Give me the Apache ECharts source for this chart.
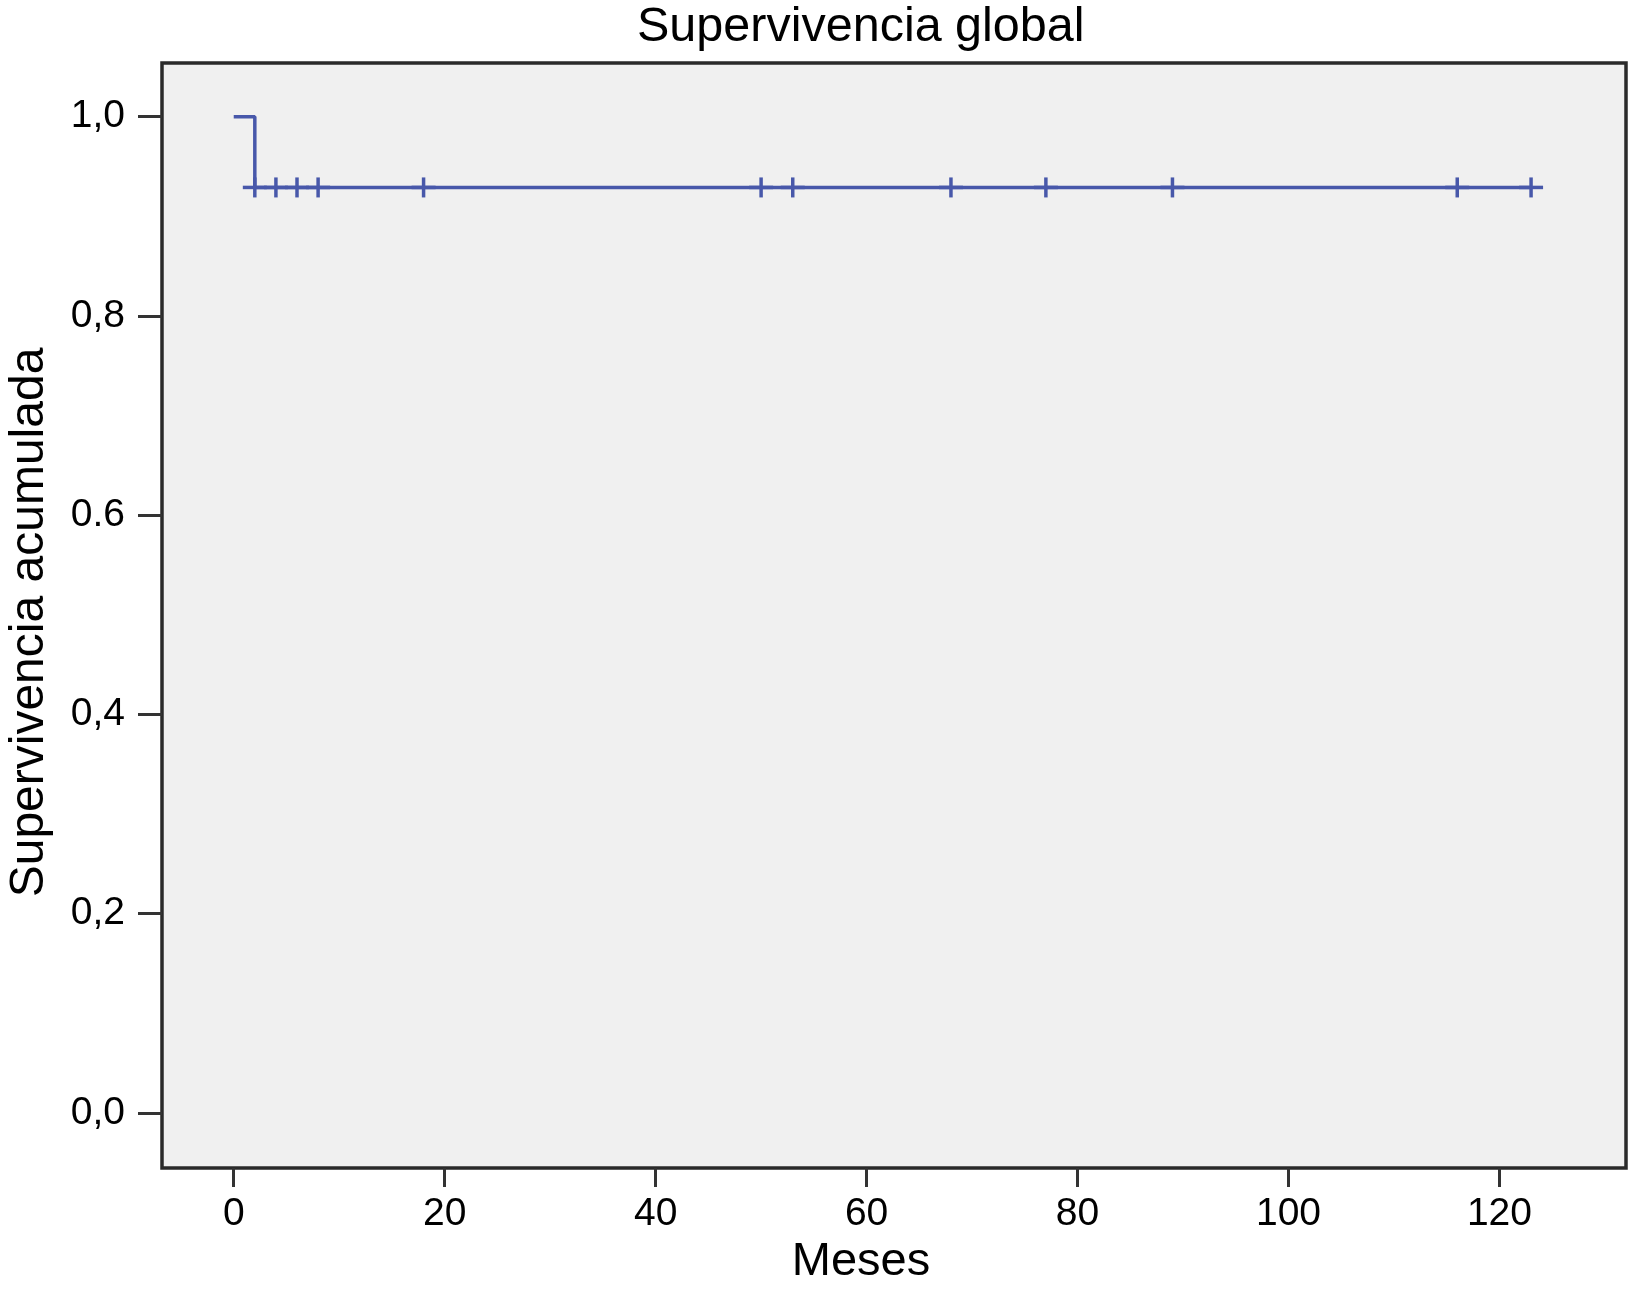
<!DOCTYPE html>
<html>
<head>
<meta charset="utf-8">
<script src="https://cdn.jsdelivr.net/npm/echarts@6/dist/echarts.min.js"></script>
<style>
html,body{margin:0;padding:0;background:#fff;}
#chart{width:1631px;height:1290px;}
</style>
</head>
<body>
<div id="chart"></div>
<script>
// ---- data ----
const stepTimes = [0, 2, 123];          // months
const stepSurvival = [1.0, 0.929, 0.929]; // cumulative survival
const censorTimes = [2, 4, 6, 8, 18, 50, 53, 68, 77, 89, 116, 123];
const censorSurvival = [0.929, 0.929, 0.929, 0.929, 0.929, 0.929, 0.929, 0.929, 0.929, 0.929, 0.929, 0.929];
const xTickValues = [0, 20, 40, 60, 80, 100, 120];
const xTickLabels = ["0", "20", "40", "60", "80", "100", "120"];
const yTickValues = [0, 0.2, 0.4, 0.6, 0.8, 1.0];
const yTickLabels = ["0,0", "0,2", "0,4", "0.6", "0,8", "1,0"];
const titleText = "Supervivencia global";
const xName = "Meses";
const yName = "Supervivencia acumulada";

const FONT = "'Liberation Sans', Arial, Helvetica, sans-serif";
const LINE_COLOR = "#4858aa";

function lookup(values, labels, v) {
  const i = values.findIndex(t => Math.abs(t - v) < 1e-6);
  return i >= 0 ? labels[i] : "";
}

const chart = echarts.init(document.getElementById('chart'), null, {renderer: 'canvas'});
const option = {
  animation: false,
  backgroundColor: '#ffffff',
  title: {
    text: titleText,
    left: 632,
    top: -2,
    textStyle: {fontFamily: FONT, fontSize: 48.5, fontWeight: 'normal', color: '#000'}
  },
  graphic: [
    {
      type: 'text',
      x: 861,
      y: 1262,
      style: {text: xName, fontFamily: FONT, fontSize: 47, fill: '#000', align: 'center', verticalAlign: 'middle'}
    }
  ],
  grid: {
    left: 162, right: 5, top: 63, bottom: 122,
    outerBoundsMode: 'none',
    containLabel: false,
    show: true,
    backgroundColor: '#f0f0f0',
    borderColor: '#2a2a2a',
    borderWidth: 3.5
  },
  xAxis: {
    type: 'value',
    min: -6.8, max: 132,
    axisLine: {show: false, onZero: false},
    splitLine: {show: false},
    axisTick: {show: true, inside: false, length: 19, customValues: xTickValues,
      lineStyle: {color: '#333', width: 3}},
    axisLabel: {customValues: xTickValues, margin: 27, fontFamily: FONT, fontSize: 39, color: '#000',
      formatter: v => lookup(xTickValues, xTickLabels, v)}
  },
  yAxis: {
    type: 'value',
    min: -0.0552, max: 1.0539,
    name: yName,
    nameLocation: 'middle',
    nameRotate: 90,
    nameGap: 108,
    nameMoveOverlap: false,
    nameTextStyle: {fontFamily: FONT, fontSize: 48, color: '#000', padding: [0, 14, 0, 0]},
    axisLine: {show: false, onZero: false},
    splitLine: {show: false},
    axisTick: {show: true, inside: false, length: 24, customValues: yTickValues,
      lineStyle: {color: '#333', width: 3}},
    axisLabel: {customValues: yTickValues, margin: 37, fontFamily: FONT, fontSize: 39, color: '#000',
      formatter: v => lookup(yTickValues, yTickLabels, v)}
  },
  series: [
    {
      type: 'line',
      step: 'end',
      data: stepTimes.map((t, i) => [t, stepSurvival[i]]),
      showSymbol: false,
      symbol: 'none',
      lineStyle: {color: LINE_COLOR, width: 3.5},
      z: 3
    },
    {
      type: 'custom',
      data: censorTimes.map((t, i) => [t, censorSurvival[i]]),
      renderItem: function (params, api) {
        const p = api.coord([api.value(0), api.value(1)]);
        const st = {stroke: LINE_COLOR, lineWidth: 3.5};
        return {
          type: 'group',
          children: [
            {type: 'line', shape: {x1: p[0], y1: p[1] - 10, x2: p[0], y2: p[1] + 10}, style: st},
            {type: 'line', shape: {x1: p[0] - 12, y1: p[1], x2: p[0] + 12, y2: p[1]}, style: st}
          ]
        };
      },
      z: 4
    }
  ]
};
chart.setOption(option);
</script>
</body>
</html>
